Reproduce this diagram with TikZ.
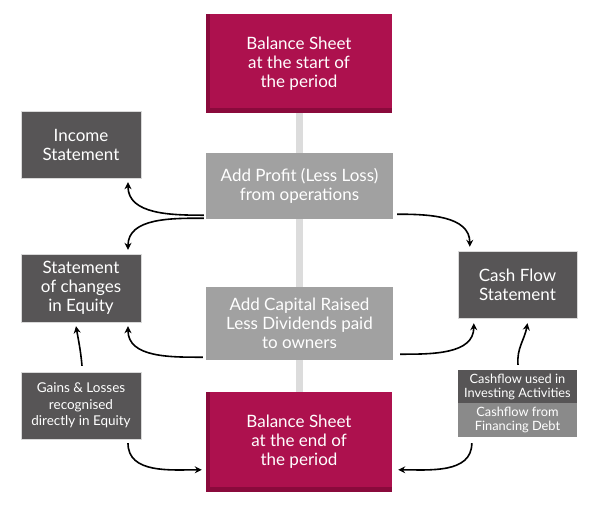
\documentclass[tikz,border=0pt]{standalone}
\usepackage{fontspec}
\setmainfont{Lato}
\usetikzlibrary{arrows.meta,backgrounds}
\definecolor{bsred}{RGB}{173,17,78}
\definecolor{bsdark}{RGB}{138,10,60}
\definecolor{darkbox}{RGB}{87,85,86}
\definecolor{lightbox}{RGB}{161,161,161}
\definecolor{midbox}{RGB}{138,138,138}
\definecolor{barclr}{RGB}{220,220,220}
\newcommand\bsw{186pt}

\begin{document}
\begin{tikzpicture}[x=1pt, y=-1pt,
    box/.style={rectangle, inner sep=0pt, align=center, text=white, font=\fontsize{17}{19}\selectfont},
    bsbox/.style={box, fill=bsred, minimum width=\bsw, minimum height=99pt,
        path picture={\fill[bsdark] (path picture bounding box.south west) rectangle ([xshift=4pt]path picture bounding box.north west);
                      \fill[bsdark] (path picture bounding box.south west) rectangle ([yshift=5pt]path picture bounding box.south east);}},
    stmt/.style={box, fill=darkbox, draw=black!15, minimum width=120pt, minimum height=67pt},
    step box/.style={box, fill=lightbox, minimum width=187pt},
    link/.style={-{Stealth[length=7pt, width=7pt]}, line width=1.6pt}]
    \useasboundingbox (0, 0) rectangle (595, 509);

    \node at (299, 63.5) [bsbox] (bsstart) {Balance Sheet\\at the start of\\the period};
    \node at (299, 442) [bsbox, minimum height=100pt] (bsend) {Balance Sheet\\at the end of\\the period};

    \node at (299.5, 186) [step box, minimum height=66pt] (profit) {Add Profit (Less Loss)\\from operations};
    \node at (299.5, 323.5) [step box, minimum height=73pt] (capital) {Add Capital Raised\\Less Dividends paid\\to owners};

    \node at (81, 144.5) [stmt] (income) {Income\\Statement};
    \node at (81, 288) [stmt, minimum height=68pt] (soce) {Statement\\of changes\\in Equity};
    \node at (517.5, 284.5) [stmt, minimum width=119pt] (cashflow) {Cash Flow\\Statement};
    \node at (81, 405.5) [stmt, font=\fontsize{13.5}{16.7}\selectfont] (gains) {Gains \& Losses\\recognised\\directly in Equity};

    \node at (517.5, 386.5) [box, fill=darkbox, minimum width=119pt, minimum height=33pt, font=\fontsize{12.8}{14}\selectfont] (invest) {Cashflow used in\\Investing Activities};
    \node at (517.5, 420) [box, fill=midbox, minimum width=119pt, minimum height=34pt, font=\fontsize{12.8}{14}\selectfont] (finance) {Cashflow from\\Financing Debt};

    % grey spine behind the middle column
    \begin{scope}[on background layer]
        \fill [barclr] ([xshift=-3.5pt]bsstart.south) rectangle ([xshift=4pt]bsend.north);
    \end{scope}

    %profit flows
    \draw [link] ([xshift=-2pt, yshift=4pt]profit.south west) to[out=180, in=-90] ([xshift=47pt, yshift=-4pt]income.south);
    \draw [link] ([xshift=-2pt, yshift=1pt]profit.south west) to[out=180, in=90] ([xshift=47pt, yshift=4pt]soce.north);
    \draw [link] ([xshift=4pt, yshift=5pt]profit.south east) to[out=0, in=90] ([xshift=12pt, yshift=4pt]cashflow.north west);
    %capital flows
    \draw [link] ([xshift=-3pt, yshift=3pt]capital.south west) to[out=180, in=-90] ([xshift=47pt, yshift=-4pt]soce.south);
    \draw [link] ([xshift=7pt, yshift=6pt]capital.south east) to[out=0, in=-90] ([xshift=16pt, yshift=-5pt]cashflow.south west);
    %side items
    \draw [link] ([xshift=1pt, yshift=6pt]gains.north) to[out=95, in=-80] ([xshift=-5pt, yshift=-4pt]soce.south);
    \draw [link] ([xshift=0.5pt, yshift=5pt]invest.north) to[out=95, in=-100] ([xshift=10pt, yshift=-5pt]cashflow.south);
    \draw [link] ([xshift=47pt, yshift=-4pt]gains.south) to[out=-90, in=180] ([xshift=-4pt, yshift=-78pt]bsend.north west);
    \draw [link] ([xshift=14pt, yshift=-6pt]finance.south west) to[out=-90, in=0] ([xshift=6pt, yshift=-78pt]bsend.north east);
\end{tikzpicture}
\end{document}
